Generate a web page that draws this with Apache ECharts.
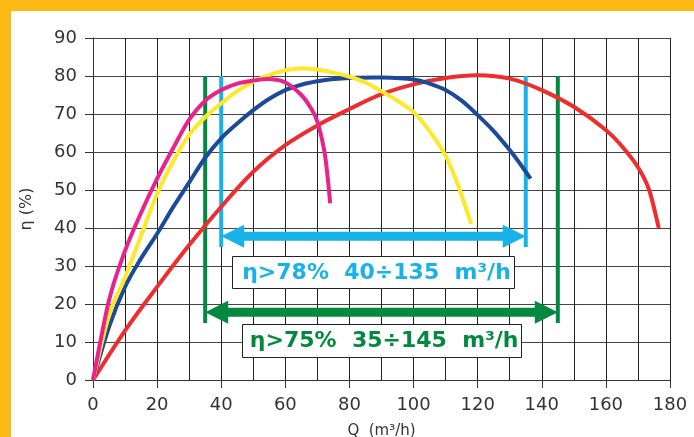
<!DOCTYPE html>
<html>
<head>
<meta charset="utf-8">
<script src="https://cdn.jsdelivr.net/npm/echarts@6/dist/echarts.min.js"></script>
<style>
html,body{margin:0;padding:0;background:#fff;}
#c{width:694px;height:437px;}
</style>
</head>
<body>
<div id="c"></div>
<script>
// ---- data ----
const xTicks = [0, 20, 40, 60, 80, 100, 120, 140, 160, 180];
const yTicks = [0, 10, 20, 30, 40, 50, 60, 70, 80, 90];

const qRed   = [0, 10, 20, 30, 40, 50, 60, 70, 80, 90, 100, 110, 120, 130, 140, 150, 160, 165, 170, 173.5, 176.5];
const etaRed = [0, 13, 24.5, 35.5, 45.6, 54.8, 61.8, 67, 71.3, 75.2, 77.8, 79.5, 80.2, 79.3, 76.3, 71.9, 65.8, 61.5, 56, 50, 40];

const qBlue   = [0, 5, 10, 15, 20, 25, 30, 35, 40, 45, 50, 55, 60, 65, 70, 75, 80, 90, 100, 105, 110, 115, 120, 125, 130, 134, 136.5];
const etaBlue = [0, 14, 24.5, 32, 38.5, 45.5, 52, 58.5, 63.6, 67.5, 71, 74, 76.3, 77.7, 78.6, 79.2, 79.5, 79.6, 79.1, 78, 76.3, 73.5, 69.7, 65.5, 60.5, 56, 53];

const qYellow   = [0, 5, 10, 15, 20, 25, 30, 35, 40, 45, 50, 55, 60, 65, 70, 75, 80, 85, 90, 95, 100, 105, 110, 114, 118];
const etaYellow = [0, 17, 27, 38, 49, 57.5, 64.5, 69.2, 72.8, 76, 78.5, 80.3, 81.5, 82, 81.7, 80.9, 79.8, 78.3, 76, 73.5, 70.5, 65.5, 59, 51, 41];

const qPink   = [0, 5, 10, 15, 20, 25, 30, 35, 40, 45, 50, 55, 60, 65, 68, 70, 72, 73, 74];
const etaPink = [0, 21, 34, 44, 53, 61, 68.5, 73.5, 76.3, 78, 78.8, 79.2, 78.3, 75, 71.5, 68, 61, 55, 46.5];

// limit lines (Q position, top eta, bottom eta)
const limitCyan  = [[40, 80, 35], [135, 80, 35]];
const limitGreen = [[35, 80, 15], [145, 80, 15]];
// arrows [Q from, Q to, eta]
const arrowCyan  = [40, 135, 37.8];
const arrowGreen = [35, 145, 17.8];
// boxed labels [Q centre, eta centre, text]
const labelCyan  = [87.5, 28.4, 'η>78%  40÷135  m³/h'];
const labelGreen = [89.9, 10.4, 'η>75%  35÷145  m³/h'];

const C_RED = '#ee2e2e', C_BLUE = '#1b4a9b', C_YELLOW = '#fde82a', C_PINK = '#e8238c';
const C_CYAN = '#16b2e8', C_GREEN = '#00893f', C_ORANGE = '#fdb913';

function zip(a, b) { return a.map((v, i) => [v, b[i]]); }

// smooth curve (Catmull-Rom through the data points, positioned by the axes)
function curve(name, q, e, color) {
  return { name, type: 'custom', z: 5, data: zip(q, e),
    renderItem: function (params, api) {
      if (params.dataIndex !== 0) return null;
      const p = q.map((v, i) => api.coord([v, e[i]]));
      let d = 'M' + p[0][0] + ',' + p[0][1];
      for (let i = 0; i < p.length - 1; i++) {
        const p0 = p[i - 1] || p[i], p1 = p[i], p2 = p[i + 1], p3 = p[i + 2] || p[i + 1];
        const c1 = [p1[0] + (p2[0] - p0[0]) / 6, p1[1] + (p2[1] - p0[1]) / 6];
        const c2 = [p2[0] - (p3[0] - p1[0]) / 6, p2[1] - (p3[1] - p1[1]) / 6];
        d += ' C' + c1[0] + ',' + c1[1] + ' ' + c2[0] + ',' + c2[1] + ' ' + p2[0] + ',' + p2[1];
      }
      return { type: 'path', shape: { pathData: d },
        style: { fill: null, stroke: color, lineWidth: 4, lineJoin: 'round' } };
    } };
}

function vlines(data, color) {
  return { type: 'custom', z: 3, data: data,
    renderItem: function (params, api) {
      const a = api.coord([api.value(0), api.value(1)]);
      const b = api.coord([api.value(0), api.value(2)]);
      return { type: 'line', shape: { x1: a[0], y1: a[1], x2: b[0], y2: b[1] },
        style: { stroke: color, lineWidth: 4 } };
    } };
}

function arrow(a, color) {
  return { type: 'custom', z: 4, data: [a],
    renderItem: function (params, api) {
      const p1 = api.coord([api.value(0), api.value(2)]);
      const p2 = api.coord([api.value(1), api.value(2)]);
      const y = p1[1], h = 4.5, L = 23, W = 11.5;
      const x1 = p1[0], x2 = p2[0];
      return { type: 'polygon', shape: { points: [
        [x1, y], [x1 + L, y - W], [x1 + L, y - h], [x2 - L, y - h], [x2 - L, y - W],
        [x2, y], [x2 - L, y + W], [x2 - L, y + h], [x1 + L, y + h], [x1 + L, y + W]] },
        style: { fill: color } };
    } };
}

function boxLabel(l, color, w, h) {
  return { type: 'custom', z: 6, data: [[l[0], l[1]]],
    renderItem: function (params, api) {
      const c = api.coord([api.value(0), api.value(1)]);
      return { type: 'group', children: [
        { type: 'rect', shape: { x: Math.round(c[0] - w / 2) + 0.5, y: Math.round(c[1] - h / 2) + 0.5, width: w, height: h },
          style: { fill: '#fff', stroke: '#222', lineWidth: 1 } },
        { type: 'text', x: c[0] + 3, y: c[1] + 1,
          style: { text: l[2], fill: color, font: 'bold 22px "DejaVu Sans"', align: 'center', verticalAlign: 'middle' } }
      ] };
    } };
}

const chart = echarts.init(document.getElementById('c'), null, { renderer: 'canvas' });
chart.setOption({
  animation: false,
  backgroundColor: '#fff',
  graphic: [
    { type: 'rect', shape: { x: 0, y: 0, width: 694, height: 11 }, style: { fill: C_ORANGE }, z: 100 },
    { type: 'rect', shape: { x: 0, y: 0, width: 11, height: 437 }, style: { fill: C_ORANGE }, z: 100 }
  ],
  grid: { left: 93, right: 24, top: 38, bottom: 57, containLabel: false, outerBoundsMode: 'none' },
  xAxis: {
    type: 'value', min: xTicks[0], max: xTicks[xTicks.length - 1], interval: 20,
    name: 'Q  (m³/h)', nameLocation: 'middle', nameGap: 44,
    nameTextStyle: { fontFamily: 'DejaVu Sans', fontSize: 15, color: '#333' },
    axisLine: { lineStyle: { color: '#333', width: 1 } },
    axisTick: { show: true, length: 8, lineStyle: { color: '#333' } },
    axisLabel: { fontFamily: 'DejaVu Sans', fontSize: 18, color: '#333', margin: 16 },
    splitLine: { show: true, lineStyle: { color: '#222', width: 1 } },
    minorTick: { show: false, splitNumber: 2 },
    minorSplitLine: { show: true, lineStyle: { color: '#222', width: 1 } }
  },
  yAxis: {
    type: 'value', min: yTicks[0], max: yTicks[yTicks.length - 1], interval: 10,
    name: 'η (%)', nameLocation: 'middle', nameGap: 58, nameRotate: 90,
    nameTextStyle: { fontFamily: 'DejaVu Sans', fontSize: 16, color: '#333' },
    axisLine: { show: true, lineStyle: { color: '#333', width: 1 } },
    axisTick: { show: true, length: 8, lineStyle: { color: '#333' } },
    axisLabel: { fontFamily: 'DejaVu Sans', fontSize: 18, color: '#333', margin: 16 },
    splitLine: { show: true, lineStyle: { color: '#444', width: 1 } }
  },
  series: [
    vlines(limitGreen, C_GREEN),
    vlines(limitCyan, C_CYAN),
    arrow(arrowCyan, C_CYAN),
    arrow(arrowGreen, C_GREEN),
    curve('red', qRed, etaRed, C_RED),
    curve('blue', qBlue, etaBlue, C_BLUE),
    curve('yellow', qYellow, etaYellow, C_YELLOW),
    curve('pink', qPink, etaPink, C_PINK),
    boxLabel(labelCyan, C_CYAN, 282, 32),
    boxLabel(labelGreen, C_GREEN, 279, 33)
  ]
});
</script>
</body>
</html>
